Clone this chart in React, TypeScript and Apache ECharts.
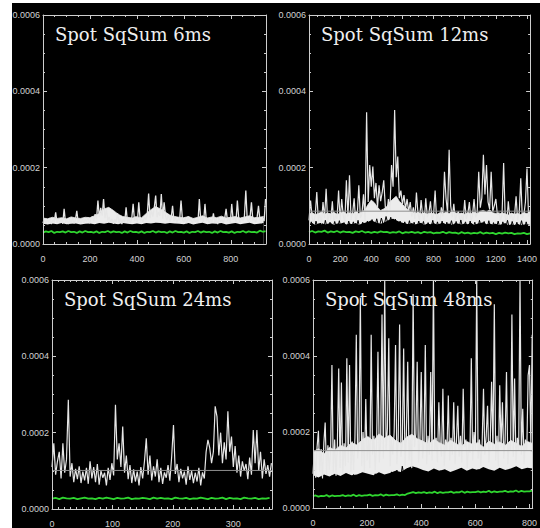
import React, { useEffect, useRef } from 'react';
import * as echarts from 'echarts';

// ---------- data (values in units of 1e-6) ----------
const titles = ['Spot SqSum 6ms', 'Spot SqSum 12ms', 'Spot SqSum 24ms', 'Spot SqSum 48ms'];
const xMax = [950, 1420, 364, 812];
const xInterval = [200, 200, 100, 200];
const xMinorSplit = [4, 4, 10, 4];
const yMax = 0.0006;
const yInterval = 0.0002;
const valueUnit = 1e-6;

// sample spacing (x units between successive samples)
const whiteStep = [6, 10, 3, 5];
const blackStep = [0, 15, 0, 10];
const greenStep = [12, 20, 6, 10];
const bandStep = [20, 20, 0, 20.3];
const meanLevel = [null, 86, 101, 151];

const white6 = [
  55, 66, 53, 64, 57, 68, 52, 63, 58, 83,
  54, 65, 56, 67, 53, 92, 55, 64, 52, 66,
  57, 68, 54, 63, 87, 56, 65, 53, 67, 55,
  64, 58, 69, 54, 66, 72, 60, 78, 65, 114,
  70, 95, 74, 118, 68, 90, 62, 71, 56, 66,
  53, 64, 57, 80, 55, 67, 52, 65, 58, 96,
  56, 68, 54, 66, 105, 60, 72, 57, 109, 62,
  66, 58, 70, 64, 75, 132, 68, 88, 72, 95,
  127, 70, 84, 74, 131, 66, 109, 73, 62, 78,
  58, 68, 100, 60, 71, 56, 66, 62, 114, 64,
  57, 69, 55, 72, 60, 66, 53, 67, 58, 64,
  55, 118, 62, 70, 57, 105, 60, 68, 54, 65,
  57, 80, 55, 66, 52, 68, 58, 64, 56, 67,
  92, 60, 69, 55, 105, 63, 70, 58, 114, 66,
  56, 68, 60, 72, 140, 64, 58, 70, 109, 62,
  66, 57, 69, 100, 63, 55, 68, 60, 118,
];

const white12 = [
  62, 114, 70, 55, 76, 136, 60, 78, 52, 110,
  68, 145, 58, 79, 64, 112, 50, 77, 66, 140,
  61, 118, 74, 56, 167, 72, 180, 63, 80, 120,
  57, 76, 154, 68, 79, 130, 62, 345, 110, 207,
  150, 203, 120, 160, 95, 154, 112, 135, 167, 98,
  80, 118, 90, 207, 150, 351, 175, 229, 120, 140,
  104, 128, 92, 118, 84, 110, 72, 96, 66, 135,
  78, 62, 115, 74, 58, 120, 70, 80, 112, 64,
  76, 140, 60, 78, 55, 96, 72, 189, 120, 82,
  247, 100, 70, 105, 62, 78, 85, 58, 76, 60,
  115, 66, 79, 110, 57, 75, 118, 70, 80, 189,
  95, 120, 234, 130, 207, 110, 92, 189, 85, 100,
  118, 76, 82, 60, 78, 212, 70, 55, 112, 66,
  78, 58, 74, 125, 62, 80, 172, 68, 76, 110,
  198, 72, 88,
];

const white24 = [
  110, 172, 90, 125, 150, 80, 172, 95, 130, 286,
  85, 120, 70, 105, 78, 112, 68, 98, 75, 108,
  66, 125, 80, 110, 70, 118, 64, 100, 82, 95,
  62, 108, 76, 120, 88, 273, 130, 172, 110, 216,
  95, 140, 78, 115, 68, 104, 72, 98, 62, 110,
  80, 125, 185, 90, 140, 75, 112, 85, 130, 70,
  108, 66, 96, 82, 115, 74, 137, 220, 92, 118,
  70, 105, 80, 98, 64, 112, 76, 100, 68, 95,
  72, 108, 62, 96, 80, 150, 181, 160, 120, 150,
  269, 242, 140, 200, 120, 175, 130, 256, 150, 190,
  110, 165, 95, 140, 85, 125, 100, 118, 78, 135,
  90, 207, 120, 207, 100, 150, 80, 130, 92, 115,
  85, 120,
];

const white48 = [
  90, 150, 80, 160, 203, 95, 155, 78, 170, 225,
  88, 165, 100, 150, 376, 92, 180, 85, 165, 367,
  105, 330, 90, 170, 110, 394, 120, 376, 95, 175,
  100, 185, 456, 130, 175, 554, 110, 200, 95, 287,
  125, 180, 105, 456, 140, 190, 100, 170, 411, 120,
  175, 509, 130, 600, 150, 210, 447, 110, 180, 140,
  200, 429, 115, 185, 483, 135, 170, 420, 110, 190,
  385, 125, 180, 105, 563, 160, 195, 385, 120, 175,
  358, 130, 170, 429, 115, 190, 140, 358, 125, 600,
  150, 185, 120, 278, 165, 135, 314, 110, 180, 150,
  296, 125, 185, 140, 278, 115, 175, 269, 135, 190,
  120, 314, 160, 180, 105, 170, 145, 394, 125, 200,
  150, 600, 130, 180, 110, 170, 314, 140, 190, 269,
  120, 175, 332, 150, 536, 125, 190, 110, 323, 160,
  278, 130, 180, 358, 115, 170, 150, 509, 135, 341,
  120, 185, 150, 600, 140, 261, 115, 180, 150, 349,
  376, 170, 456,
];

// upper / lower edges of the dense white band (where the trace fills solidly)
const bandHigh6 = [
  68, 66, 70, 67, 69, 66, 71, 68, 67, 70,
  69, 74, 80, 92, 96, 88, 78, 72, 70, 68,
  71, 69, 80, 90, 98, 92, 84, 76, 72, 70,
  69, 72, 67, 70, 74, 68, 71, 69, 73, 68,
  70, 72, 68, 71, 74, 69, 70, 72,
];
const bandLow6 = [
  53, 51, 54, 52, 55, 52, 53, 54, 51, 53,
  54, 52, 55, 53, 56, 54, 52, 55, 53, 52,
  54, 52, 55, 54, 56, 55, 53, 55, 54, 53,
  52, 55, 51, 54, 56, 52, 54, 53, 55, 51,
  53, 55, 52, 54, 56, 52, 53, 55,
];
const bandHigh12 = [
  79, 82, 77, 80, 84, 78, 81, 79, 83, 78,
  80, 85, 79, 82, 78, 86, 80, 84, 90, 104,
  115, 108, 96, 88, 92, 98, 110, 118, 125, 112,
  104, 95, 88, 84, 80, 83, 79, 82, 78, 81,
  80, 77, 82, 79, 84, 80, 86, 82, 79, 81,
  78, 82, 80, 84, 79, 86, 88, 84, 90, 82,
  80, 78, 82, 79, 76, 81, 78, 80, 77, 82,
  80, 83,
];
const bandLow12 = [
  52, 55, 50, 54, 56, 51, 53, 55, 50, 54,
  53, 56, 51, 54, 52, 55, 50, 54, 56, 58,
  62, 58, 55, 53, 56, 60, 64, 66, 62, 58,
  56, 54, 52, 55, 51, 53, 56, 50, 54, 52,
  55, 51, 53, 56, 52, 54, 50, 55, 53, 51,
  54, 52, 56, 50, 53, 55, 57, 52, 54, 51,
  53, 50, 52, 55, 49, 52, 50, 53, 49, 51,
  52, 50,
];
const bandHigh48 = [
  148, 156, 142, 160, 152, 165, 158, 172, 166, 180,
  188, 176, 195, 184, 192, 178, 170, 186, 194, 182,
  176, 168, 180, 172, 165, 178, 170, 162, 175, 168,
  172, 160, 176, 168, 174, 165, 178, 170, 162, 175,
  170,
];
const bandLow48 = [
  86, 80, 88, 83, 90, 84, 92, 86, 88, 94,
  90, 86, 94, 88, 92, 98, 95, 104, 110, 106,
  100, 96, 104, 98, 102, 95, 100, 106, 98, 104,
  100, 108, 102, 98, 106, 100, 104, 110, 102, 106,
  104,
];

const black12 = [
  35, 58, 32, 60, 38, 55, 30, 62, 36, 57,
  33, 59, 37, 61, 34, 56, 31, 60, 39, 58,
  35, 62, 33, 57, 38, 60, 36, 64, 40, 66,
  42, 68, 45, 72, 48, 70, 44, 65, 38, 60,
  34, 58, 36, 61, 32, 57, 38, 60, 35, 59,
  31, 56, 37, 62, 34, 58, 36, 60, 33, 57,
  38, 61, 35, 59, 32, 63, 37, 58, 34, 60,
  36, 57, 33, 62, 38, 59, 35, 61, 32, 56,
  37, 60, 34, 58, 36, 62, 33, 59, 38, 57,
  35, 61, 33, 58, 36,
];

const black48 = [
  40, 75, 35, 80, 45, 72, 38, 85, 42, 78,
  36, 82, 44, 76, 40, 88, 35, 80, 46, 74,
  38, 84, 42, 90, 48, 78, 40, 86, 50, 95,
  45, 100, 60, 110, 70, 105, 55, 92, 48, 88,
  50, 96, 45, 90, 52, 85, 46, 98, 50, 92,
  55, 88, 48, 100, 52, 94, 58, 90, 50, 96,
  54, 102, 48, 92, 56, 98, 50, 95, 58, 90,
  52, 100, 55, 94, 50, 97, 58, 92, 54, 99,
  56, 95,
];

const green6 = [
  30, 33, 31, 34, 29, 32, 31, 33, 30, 34,
  31, 32, 29, 33, 30, 34, 31, 32, 30, 33,
  29, 32, 31, 34, 30, 33, 31, 32, 29, 33,
  30, 34, 31, 32, 30, 33, 29, 32, 31, 34,
  30, 33, 31, 32, 29, 33, 30, 34, 31, 32,
  30, 33, 29, 32, 31, 34, 30, 33, 31, 32,
  29, 33, 30, 34, 31, 32, 30, 33, 29, 32,
  31, 34, 30, 33, 31, 32, 30, 35, 32, 34,
];

const green12 = [
  31, 34, 30, 33, 32, 35, 30, 33, 31, 34,
  30, 33, 31, 32, 29, 33, 31, 34, 30, 32,
  29, 32, 30, 33, 31, 32, 29, 31, 30, 33,
  28, 31, 30, 32, 29, 31, 28, 32, 30, 31,
  28, 30, 29, 32, 28, 31, 29, 30, 27, 31,
  28, 30, 27, 29, 28, 31, 27, 30, 28, 29,
  26, 29, 27, 30, 28, 29, 26, 28, 27, 29,
  26, 28,
];

const green24 = [
  27, 29, 26, 30, 28, 27, 29, 26, 28, 30,
  27, 28, 26, 29, 27, 30, 28, 26, 29, 27,
  28, 30, 26, 28, 27, 29, 28, 26, 30, 27,
  29, 27, 28, 26, 30, 28, 27, 29, 26, 28,
  27, 30, 28, 26, 29, 27, 28, 30, 26, 29,
  27, 28, 26, 30, 28, 27, 29, 26, 28, 27,
  29,
];

const green48 = [
  31, 33, 30, 32, 31, 34, 30, 33, 31, 32,
  32, 34, 31, 33, 32, 35, 31, 34, 32, 33,
  33, 35, 32, 34, 33, 36, 32, 35, 33, 34,
  34, 36, 33, 35, 34, 38, 40, 42, 39, 41,
  40, 42, 39, 41, 40, 43, 39, 42, 40, 41,
  41, 43, 40, 42, 41, 44, 40, 43, 41, 42,
  42, 44, 41, 43, 42, 45, 41, 44, 42, 43,
  43, 45, 42, 44, 43, 46, 42, 45, 43, 44,
  44, 46,
];

const whiteData = [white6, white12, white24, white48];
const blackData = [null, black12, null, black48];
const greenData = [green6, green12, green24, green48];
const bandHighData = [bandHigh6, bandHigh12, null, bandHigh48];
const bandLowData = [bandLow6, bandLow12, null, bandLow48];

// ---------- layout / style ----------
const grids = [
  { left: 43, top: 15, width: 223, height: 229 },
  { left: 309, top: 15, width: 222, height: 229 },
  { left: 52, top: 280, width: 220, height: 229 },
  { left: 313, top: 280, width: 220, height: 228 },
];
const whiteWidth = [1.3, 1.2, 1.2, 1.2];
const frame = '#cdcdcd';
const labelColor = '#d2d2d2';
const bandColor = '#ececec';

const toPairs = (arr: number[], step: number) => arr.map((v, i) => [i * step, v * valueUnit]);

function buildOption() {
  const xAxis: any[] = [];
  const yAxis: any[] = [];
  const series: any[] = [];
  const graphic: any[] = [];
  grids.forEach((g, p) => {
    const tickCommon = {
      z: 10,
      axisLine: { show: true, onZero: false, lineStyle: { color: frame, width: 1 } },
      axisTick: { show: true, inside: true, length: 4, lineStyle: { color: frame } },
      splitLine: { show: false },
      minorSplitLine: { show: false },
    };
    ['bottom', 'top'].forEach((pos) => {
      xAxis.push({
        type: 'value', gridIndex: p, position: pos, min: 0, max: xMax[p], interval: xInterval[p],
        ...tickCommon,
        minorTick: { show: true, splitNumber: xMinorSplit[p], length: 2, lineStyle: { color: frame } },
        axisLabel: {
          show: pos === 'bottom', color: labelColor, fontSize: 9, fontFamily: 'Liberation Sans',
          margin: 10, showMaxLabel: false, formatter: (v: number) => String(Math.round(v)),
        },
      });
    });
    ['left', 'right'].forEach((pos) => {
      yAxis.push({
        type: 'value', gridIndex: p, position: pos, min: 0, max: yMax, interval: yInterval,
        ...tickCommon,
        minorTick: { show: true, splitNumber: 4, length: 2, lineStyle: { color: frame } },
        axisLabel: {
          show: pos === 'left', color: labelColor, fontSize: 9, fontFamily: 'Liberation Sans',
          margin: 3, formatter: (v: number) => v.toFixed(4),
        },
      });
    });
    const ax = { xAxisIndex: 2 * p, yAxisIndex: 2 * p };
    const bh = bandHighData[p];
    const bl = bandLowData[p];
    if (bh && bl) {
      series.push({
        type: 'line', ...ax, data: toPairs(bh, bandStep[p]), showSymbol: false, symbol: 'none',
        lineStyle: { width: 0.8, color: bandColor }, areaStyle: { color: bandColor, opacity: 1, origin: 'start' },
        silent: true, z: 1,
      });
      series.push({
        type: 'line', ...ax, data: toPairs(bl, bandStep[p]), showSymbol: false, symbol: 'none',
        lineStyle: { width: 0, color: '#000' }, areaStyle: { color: '#000', opacity: 1, origin: 'start' },
        silent: true, z: 1,
      });
    }
    series.push({
      type: 'line', ...ax, data: toPairs(whiteData[p], whiteStep[p]), showSymbol: false, symbol: 'none',
      lineStyle: { color: '#e6e6e6', width: whiteWidth[p] }, silent: true, z: 2,
    });
    const bd = blackData[p];
    if (bd) {
      series.push({
        type: 'line', ...ax, data: toPairs(bd, blackStep[p]), showSymbol: false, symbol: 'none',
        lineStyle: { color: '#000', width: 1 }, silent: true, z: 3,
      });
    }
    series.push({
      type: 'line', ...ax, data: toPairs(greenData[p], greenStep[p]), showSymbol: false, symbol: 'none',
      lineStyle: { color: '#2fd62f', width: 1.8 }, silent: true, z: 4,
    });
    const m = meanLevel[p];
    if (m !== null) {
      series.push({
        type: 'line', ...ax, data: [[0, m * valueUnit], [xMax[p], m * valueUnit]], showSymbol: false,
        symbol: 'none', lineStyle: { color: '#8f8f8f', width: 1 }, silent: true, z: 5,
      });
    }
    graphic.push({
      type: 'text', x: g.left + 12, y: g.top + 19, z: 1, silent: true,
      style: { text: titles[p], font: '18px "DejaVu Serif"', fill: '#efefef', verticalAlign: 'middle' },
    });
  });
  return {
    animation: false,
    backgroundColor: 'transparent',
    grid: grids.map((g) => ({ ...g, containLabel: false })),
    xAxis, yAxis, series, graphic,
  };
}

export default function App() {
  const ref = useRef<HTMLDivElement>(null);
  useEffect(() => {
    if (!ref.current) return;
    const chart = echarts.init(ref.current, undefined, { renderer: 'svg' });
    chart.setOption(buildOption() as any);
    return () => chart.dispose();
  }, []);
  return (
    <div style={{ position: 'absolute', left: 0, top: 0, width: 540, height: 528, background: '#fff', overflow: 'hidden' }}>
      <div style={{ position: 'absolute', left: 12, top: 3, width: 528, height: 525, background: '#000' }} />
      <div ref={ref} style={{ position: 'absolute', left: 0, top: 0, width: 540, height: 528 }} />
    </div>
  );
}
